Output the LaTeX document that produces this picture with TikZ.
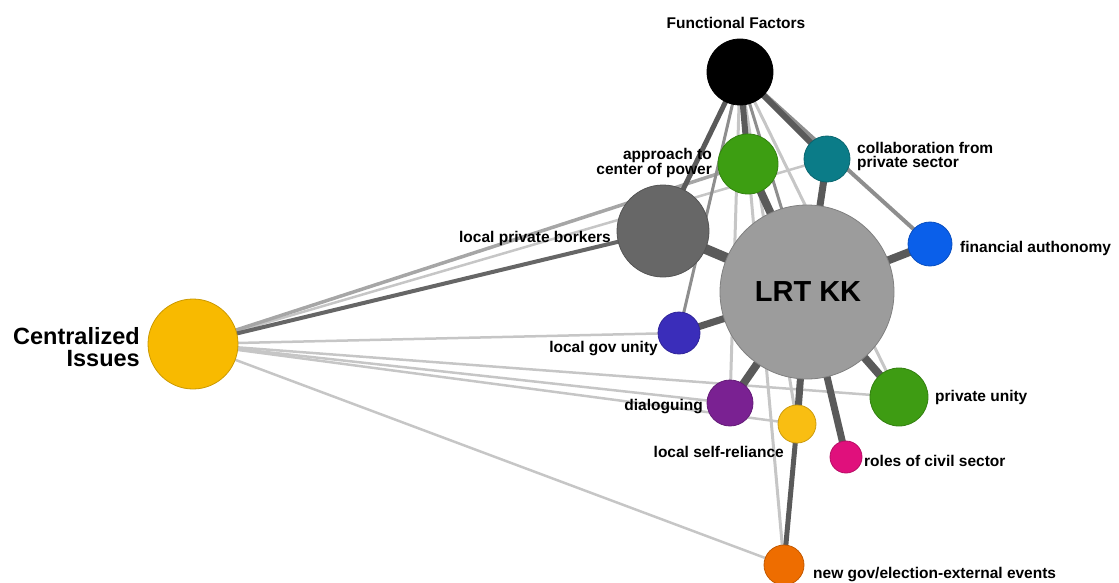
\documentclass[tikz,border=0pt]{standalone}
\usepackage{fontspec}
\setmainfont{Liberation Sans}
\pgfdeclarelayer{bg}
\pgfsetlayers{bg,main}
\definecolor{cFF}{HTML}{000000}
\definecolor{cApp}{HTML}{3D9E12}
\definecolor{cCol}{HTML}{0B7C88}
\definecolor{cLpb}{HTML}{676767}
\definecolor{cFin}{HTML}{0A5FEA}
\definecolor{cLRT}{HTML}{9C9C9C}
\definecolor{cCen}{HTML}{F8BA00}
\definecolor{cLgu}{HTML}{3A2DBA}
\definecolor{cDia}{HTML}{7A2192}
\definecolor{cSelf}{HTML}{F9BE12}
\definecolor{cPriv}{HTML}{3E9C13}
\definecolor{cRoles}{HTML}{E0107C}
\definecolor{cNew}{HTML}{EE6D00}
\definecolor{eDark}{HTML}{5A5A5A}
\definecolor{eMid}{HTML}{8E8E8E}
\definecolor{eLight}{HTML}{C6C6C6}
\tikzset{
  dot/.style={circle, inner sep=0pt, fill=#1, draw=#1!82!black, line width=0.8pt},
  lbl/.style={font=\bfseries\fontsize{15.5}{14}\selectfont, inner sep=0pt},
  dk/.style={draw=eDark, line width=#1},
  md/.style={draw=eMid, line width=#1},
  lt/.style={draw=eLight, line width=#1},
}
\begin{document}
\begin{tikzpicture}[x=1pt,y=-1pt]
\useasboundingbox (0,0) rectangle (1119,583);
% nodes
\node[dot=cFF, minimum size=66pt] (ff) at (740,72) {};
\node[dot=cApp, minimum size=60pt] (app) at (748,164) {};
\node[dot=cCol, minimum size=46pt] (col) at (827,159) {};
\node[dot=cLpb, minimum size=92pt] (lpb) at (663,231) {};
\node[dot=cFin, minimum size=44pt] (fin) at (930,244) {};
\node[dot=cLRT, minimum size=174pt] (lrt) at (807,292) {};
\node[dot=cCen, minimum size=90pt] (cen) at (193,344) {};
\node[dot=cLgu, minimum size=42pt] (lgu) at (679,333) {};
\node[dot=cDia, minimum size=46pt] (dia) at (730,403) {};
\node[dot=cSelf, minimum size=38pt] (self) at (797,424) {};
\node[dot=cPriv, minimum size=58pt] (priv) at (899,397) {};
\node[dot=cRoles, minimum size=32pt] (roles) at (846,457) {};
\node[dot=cNew, minimum size=40pt] (new) at (784,565) {};
% labels
\node[lbl, anchor=base] (lff) at (736,29) {Functional Factors};
\node[lbl, anchor=east, align=right] (lapp) at (712,163) {approach to\\center of power};
\node[lbl, anchor=west, align=left] (lcol) at (857,156) {collaboration from\\private sector};
\node[lbl, anchor=base east] (llpb) at (611,242) {local private borkers};
\node[lbl, anchor=base west] (lfin) at (960,252) {financial authonomy};
\node[font=\bfseries\fontsize{29}{29}\selectfont, inner sep=0pt] (llrt) at (808,292) {LRT KK};
\node[font=\bfseries\fontsize{23.5}{22.5}\selectfont, inner sep=0pt, anchor=east, align=right] (lcen) at (140,347) {Centralized\\Issues};
\node[lbl, anchor=base east] (llgu) at (658,352) {local gov unity};
\node[lbl, anchor=base east] (ldia) at (703,410) {dialoguing};
\node[lbl, anchor=base east] (lself) at (784,457) {local self-reliance};
\node[lbl, anchor=base west] (lpriv) at (935,401) {private unity};
\node[lbl, anchor=base west] (lroles) at (864,466) {roles of civil sector};
\node[lbl, anchor=base west] (lnew) at (813,578) {new gov/election-external events};
% edges
\begin{pgfonlayer}{bg}
\draw[lt=2.5pt] (cen.center) -- (col.center);
\draw[lt=2.5pt] (cen.center) -- (lgu.center);
\draw[lt=2.5pt] (cen.center) -- (priv.center);
\draw[lt=2.5pt] (cen.center) -- (dia.center);
\draw[lt=2.5pt] (cen.center) -- (self.center);
\draw[lt=2.5pt] (cen.center) -- (new.center);
\draw[md=3.5pt, draw=gray!70] (cen.center) -- (app.center);
\draw[lt=3pt] (ff.center) -- (dia.center);
\draw[lt=3pt] (ff.center) -- (self.center);
\draw[lt=3pt] (ff.center) -- (new.center);
\draw[lt=3pt] (ff.center) -- (priv.center);
\draw[md=3pt] (ff.center) -- (lgu.center);
\draw[md=3pt] (ff.center) -- (lrt.center);
\draw[md=4pt] (ff.center) -- (fin.center);
\draw[dk=4pt, draw=gray!120] (cen.center) -- (lpb.center);
\draw[dk=5pt] (ff.center) -- (lpb.center);
\draw[dk=6pt] (ff.center) -- (app.center);
\draw[dk=6pt] (ff.center) -- (col.center);
\draw[dk=5pt] (self.center) -- (new.center);
\draw[dk=10pt] (lrt.center) -- (lpb.center);
\draw[dk=8pt] (lrt.center) -- (app.center);
\draw[dk=7pt] (lrt.center) -- (col.center);
\draw[dk=8pt] (lrt.center) -- (fin.center);
\draw[dk=7pt] (lrt.center) -- (lgu.center);
\draw[dk=8pt] (lrt.center) -- (dia.center);
\draw[dk=7pt] (lrt.center) -- (self.center);
\draw[dk=7pt] (lrt.center) -- (roles.center);
\draw[dk=8pt] (lrt.center) -- (priv.center);
\end{pgfonlayer}
\end{tikzpicture}
\end{document}
